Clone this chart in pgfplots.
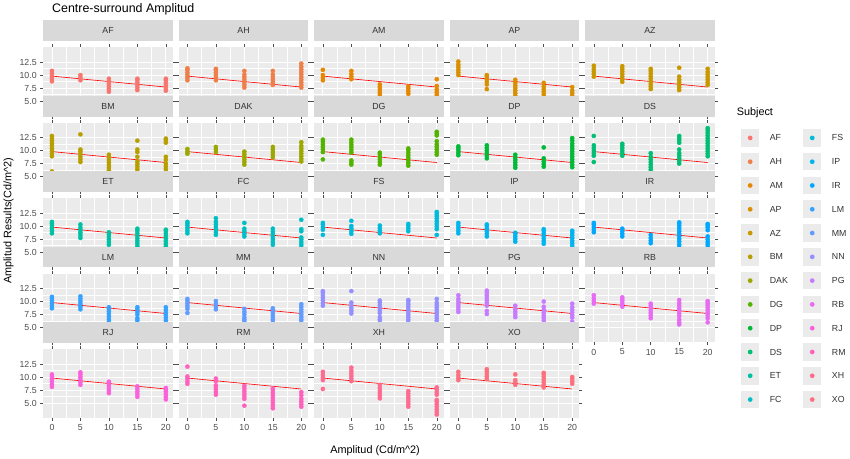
\documentclass[border=0pt]{standalone}
\usepackage{pgfplots}
\pgfplotsset{compat=1.18}
\usepgfplotslibrary{groupplots}
\usetikzlibrary{calc}
\usepackage{fontspec}
\setmainfont{Liberation Sans}
\definecolor{cAF}{HTML}{F8766D}\definecolor{cAH}{HTML}{EF7F49}\definecolor{cAM}{HTML}{E58700}
\definecolor{cAP}{HTML}{D89000}\definecolor{cAZ}{HTML}{C99800}\definecolor{cBM}{HTML}{B79F00}
\definecolor{cDAK}{HTML}{9CA700}\definecolor{cDG}{HTML}{53B400}\definecolor{cDP}{HTML}{00BA38}
\definecolor{cDS}{HTML}{00BF74}\definecolor{cET}{HTML}{00C1A3}\definecolor{cFC}{HTML}{00BFC4}
\definecolor{cFS}{HTML}{00BBDB}\definecolor{cIP}{HTML}{00B4EF}\definecolor{cIR}{HTML}{00A9FF}
\definecolor{cLM}{HTML}{35A2FF}\definecolor{cMM}{HTML}{619CFF}\definecolor{cNN}{HTML}{9590FF}
\definecolor{cPG}{HTML}{C77CFF}\definecolor{cRB}{HTML}{E76BF3}\definecolor{cRJ}{HTML}{FA62DB}
\definecolor{cRM}{HTML}{FF62BC}\definecolor{cXH}{HTML}{FF6C91}\definecolor{cXO}{HTML}{FC717F}
\definecolor{panelbg}{HTML}{EBEBEB}\definecolor{stripbg}{HTML}{D9D9D9}\definecolor{ticktxt}{HTML}{4D4D4D}
\newcommand{\panel}[4][]{\nextgroupplot[title={#2},#1]
 \addplot[only marks,mark=*,mark size=2pt,color=c#3] coordinates {#4};
 \addplot[red,line width=0.6pt] coordinates {(0,9.8)(20,7.7)};}
\begin{document}
\begin{tikzpicture}
\begin{groupplot}[
 group style={group size=5 by 5, horizontal sep=6pt, vertical sep=7pt,
   xticklabels at=edge bottom, yticklabels at=edge left},
 width=125pt, height=66pt, scale only axis,
 xmin=-1.5, xmax=21.2, ymin=2.2, ymax=15.3,
 xtick={0,5,10,15,20}, ytick={5,7.5,10,12.5}, yticklabels={5.0,7.5,10.0,12.5},
 minor x tick num=1, minor y tick num=1,
 axis background/.style={fill=panelbg},
 axis line style={draw=none},
 grid=both, major grid style={white,line width=0.8pt}, minor grid style={white,line width=0.4pt},
 tick align=outside, major tick length=3pt, minor tick length=0pt,
 tick style={ticktxt,line width=0.5pt},
 tick label style={font=\fontsize{8.5}{10}\selectfont, text=ticktxt},
 /pgf/number format/assume math mode=true,
 title style={at={(0.5,1)}, anchor=south, fill=stripbg, minimum width=125pt, minimum height=20pt,
   inner sep=0pt, font=\fontsize{8.5}{10}\selectfont, text=black!80, yshift=0pt},
 clip=false,
]
\panel[]{AF}{AF}{(0,8.8)(0,9.3)(0,9.8)(0,10.3)(0,10.8)(5,9.0)(5,9.5)(5,10.0)(10,6.8)(10,7.3)(10,7.8)(10,8.3)(10,8.8)(10,9.3)(15,7.1)(15,7.6)(15,8.1)(15,8.6)(15,9.1)(15,9.3)(20,7.0)(20,7.5)(20,8.0)(20,8.5)(20,9.0)(20,9.3)}
\node[anchor=west,font=\fontsize{12}{14}\selectfont] at (rel axis cs:0.04,1.56) {Centre-surround Amplitud};
\panel{AH}{AH}{(0,9.0)(0,9.5)(0,10.0)(0,10.5)(0,11.0)(0,11.3)(5,9.0)(5,9.5)(5,10.0)(5,10.5)(5,11.0)(5,11.2)(10,7.6)(10,8.1)(10,8.6)(10,9.1)(10,9.6)(10,10.1)(10,10.8)(15,8.1)(15,8.6)(15,9.1)(15,9.6)(15,10.1)(15,10.8)(20,7.6)(20,8.1)(20,8.6)(20,9.1)(20,9.6)(20,10.1)(20,10.6)(20,11.1)(20,11.6)(20,12.2)}
\panel{AM}{AM}{(0,9.0)(0,9.5)(0,10.0)(0,11.0)(5,9.2)(5,9.7)(5,10.2)(5,10.8)(10,6.2)(10,6.7)(10,7.2)(10,7.7)(10,8.2)(15,6.4)(15,6.9)(15,7.4)(15,7.8)(20,6.2)(20,6.7)(20,7.2)(20,7.9)(20,9.2)}
\panel{AP}{AP}{(0,10.0)(0,10.5)(0,11.0)(0,11.5)(0,12.0)(0,12.6)(5,7.3)(5,8.2)(5,8.7)(5,9.2)(5,9.7)(5,10.0)(10,5.5)(10,6.0)(10,6.5)(10,7.0)(10,7.5)(10,8.0)(10,8.5)(10,9.1)(15,4.2)(15,5.8)(15,6.3)(15,6.8)(15,7.3)(15,7.8)(15,8.5)(20,3.7)(20,4.5)(20,5.0)(20,5.5)(20,6.0)(20,6.5)(20,7.0)(20,7.7)}
\panel{AZ}{AZ}{(0,9.7)(0,10.2)(0,10.7)(0,11.2)(0,11.8)(5,8.7)(5,9.2)(5,9.7)(5,10.2)(5,10.7)(5,11.2)(5,11.7)(10,7.3)(10,7.8)(10,8.3)(10,8.8)(10,9.3)(10,9.8)(10,10.3)(10,10.8)(10,11.2)(15,7.1)(15,7.6)(15,8.1)(15,8.6)(15,9.1)(15,9.7)(15,11.4)(20,8.1)(20,8.6)(20,9.1)(20,9.6)(20,10.1)(20,10.6)(20,11.2)}
\panel{BM}{BM}{(0,6.0)(0,8.9)(0,9.4)(0,9.9)(0,10.4)(0,10.9)(0,11.4)(0,11.9)(0,12.4)(0,12.8)(5,7.8)(5,8.3)(5,8.8)(5,9.3)(5,9.8)(5,10.2)(5,13.1)(10,6.2)(10,6.7)(10,7.2)(10,7.7)(10,8.2)(10,8.7)(10,9.2)(15,4.6)(15,5.9)(15,6.4)(15,6.9)(15,7.4)(15,7.9)(15,8.8)(15,9.7)(15,10.2)(15,11.9)(20,6.0)(20,6.5)(20,7.0)(20,7.5)(20,8.2)(20,8.8)(20,11.5)(20,12.0)(20,12.3)}
\panel{DAK}{DAK}{(0,9.4)(0,9.8)(0,10.3)(5,9.7)(5,10.2)(5,10.7)(10,7.3)(10,7.8)(10,8.3)(10,8.8)(10,9.3)(10,9.8)(15,8.7)(15,9.2)(15,9.7)(15,10.2)(15,10.7)(20,7.9)(20,8.4)(20,8.9)(20,9.4)(20,9.9)(20,10.4)(20,10.9)(20,11.6)}
\panel{DG}{DG}{(0,8.3)(0,9.7)(0,10.2)(0,10.7)(0,11.2)(0,11.7)(0,12.1)(5,7.3)(5,7.7)(5,8.1)(5,9.6)(5,10.1)(5,10.6)(5,11.1)(5,11.6)(5,12.1)(10,7.3)(10,7.8)(10,8.3)(10,8.8)(10,9.3)(10,9.6)(15,7.1)(15,7.6)(15,8.1)(15,8.6)(15,9.1)(15,9.6)(15,10.1)(15,10.4)(20,9.2)(20,9.7)(20,10.2)(20,10.7)(20,11.2)(20,11.8)(20,12.9)(20,13.3)(20,13.6)}
\panel{DP}{DP}{(0,9.1)(0,9.6)(0,10.1)(0,10.5)(0,10.8)(5,8.5)(5,9.0)(5,9.5)(5,10.0)(5,10.5)(5,11.0)(10,5.4)(10,6.7)(10,7.2)(10,7.7)(10,8.2)(10,8.7)(10,9.2)(15,6.9)(15,7.4)(15,7.9)(15,8.5)(15,10.6)(20,3.8)(20,6.8)(20,7.3)(20,7.8)(20,8.3)(20,8.8)(20,9.3)(20,9.8)(20,10.3)(20,10.8)(20,11.3)(20,11.9)(20,12.4)}
\panel{DS}{DS}{(0,7.8)(0,9.0)(0,9.5)(0,10.0)(0,10.5)(0,11.0)(0,12.8)(5,9.0)(5,9.5)(5,10.0)(5,10.5)(5,11.0)(5,11.3)(10,6.3)(10,6.8)(10,7.3)(10,7.8)(10,8.3)(10,8.8)(10,9.5)(15,7.5)(15,8.0)(15,8.5)(15,9.0)(15,9.5)(15,10.2)(15,11.5)(15,12.0)(15,12.4)(15,12.8)(20,8.9)(20,9.4)(20,9.9)(20,10.4)(20,10.9)(20,11.4)(20,11.9)(20,12.4)(20,12.9)(20,13.4)(20,13.9)(20,14.3)}
\panel{ET}{ET}{(0,8.6)(0,9.1)(0,9.6)(0,10.1)(0,10.5)(0,10.8)(5,7.7)(5,8.2)(5,8.7)(5,9.2)(5,9.7)(5,10.3)(10,6.4)(10,6.9)(10,7.4)(10,7.9)(10,8.4)(10,8.8)(15,5.6)(15,6.1)(15,6.6)(15,7.1)(15,7.6)(15,8.1)(15,8.6)(15,9.1)(15,9.5)(20,5.6)(20,6.1)(20,6.6)(20,7.1)(20,7.6)(20,8.1)(20,8.6)(20,9.1)(20,9.3)}
\node[rotate=90,font=\fontsize{10.5}{12}\selectfont] at (rel axis cs:-0.27,0.67) {Amplitud Results(Cd/m\textasciicircum 2)};
\panel{FC}{FC}{(0,8.6)(0,9.1)(0,9.6)(0,10.1)(0,10.5)(0,10.8)(5,8.3)(5,8.8)(5,9.3)(5,9.8)(5,10.3)(5,10.8)(5,11.5)(10,8.0)(10,8.5)(10,9.0)(10,9.5)(10,10.6)(15,6.4)(15,6.9)(15,7.4)(15,7.9)(15,8.4)(15,8.9)(15,9.5)(20,5.9)(20,6.4)(20,6.9)(20,7.4)(20,7.8)(20,9.0)(20,9.4)(20,11.2)}
\panel{FS}{FS}{(0,8.3)(0,9.3)(0,9.8)(0,10.3)(0,10.6)(5,8.5)(5,9.0)(5,9.5)(5,10.0)(5,11.0)(10,8.6)(10,9.1)(10,9.6)(10,10.1)(15,9.0)(15,9.5)(15,10.0)(15,10.4)(20,8.3)(20,9.4)(20,9.9)(20,10.4)(20,10.9)(20,11.4)(20,11.9)(20,12.3)(20,12.7)}
\panel{IP}{IP}{(0,8.6)(0,9.1)(0,9.6)(0,10.1)(0,10.6)(5,8.0)(5,8.5)(5,9.0)(5,9.5)(5,10.0)(5,10.3)(10,7.0)(10,7.5)(10,8.0)(10,8.5)(10,8.7)(15,6.6)(15,7.1)(15,7.6)(15,8.1)(15,8.6)(15,9.1)(15,9.4)(20,5.7)(20,6.2)(20,6.7)(20,7.2)(20,7.7)(20,8.2)(20,8.7)(20,9.1)}
\panel{IR}{IR}{(0,8.8)(0,9.3)(0,9.8)(0,10.3)(0,10.6)(5,8.0)(5,8.5)(5,9.0)(5,9.5)(10,6.7)(10,7.2)(10,7.7)(10,8.3)(15,5.9)(15,6.4)(15,7.0)(15,7.5)(15,8.0)(15,8.5)(15,9.0)(15,9.5)(15,10.0)(15,10.4)(15,10.7)(20,5.4)(20,5.9)(20,6.4)(20,6.9)(20,7.4)(20,8.0)(20,9.2)(20,9.7)(20,10.1)(20,10.4)}
\panel{LM}{LM}{(0,8.7)(0,9.2)(0,9.7)(0,10.2)(0,10.6)(0,10.9)(5,8.5)(5,9.0)(5,9.5)(5,10.0)(5,10.5)(5,11.0)(10,5.1)(10,5.6)(10,6.1)(10,6.6)(10,7.1)(10,7.6)(10,8.1)(10,8.6)(10,8.9)(15,4.9)(15,5.4)(15,5.9)(15,6.4)(15,6.8)(15,7.5)(15,8.0)(15,8.5)(15,8.9)(20,4.4)(20,4.9)(20,5.4)(20,5.9)(20,6.4)(20,6.9)(20,7.4)(20,7.9)(20,8.4)(20,8.9)}
\panel{MM}{MM}{(0,7.8)(0,8.6)(0,9.1)(0,9.6)(0,10.1)(0,10.5)(5,8.5)(5,9.0)(5,9.5)(5,10.1)(10,6.1)(10,6.5)(10,6.9)(10,7.5)(10,8.0)(10,8.6)(15,6.0)(15,6.5)(15,7.0)(15,7.5)(15,8.0)(15,8.5)(15,8.7)(20,6.0)(20,6.5)(20,7.0)(20,7.5)(20,8.0)(20,8.5)(20,9.0)(20,9.5)}
\panel{NN}{NN}{(0,9.2)(0,9.7)(0,10.2)(0,10.7)(0,11.2)(0,11.7)(0,12.0)(5,7.7)(5,8.2)(5,8.7)(5,9.2)(5,9.8)(5,12.0)(10,5.5)(10,6.0)(10,6.5)(10,7.0)(10,7.8)(10,8.3)(10,8.8)(10,9.3)(10,9.8)(10,10.2)(15,6.0)(15,6.5)(15,7.0)(15,7.5)(15,8.0)(15,8.5)(15,9.0)(15,9.5)(15,10.0)(15,10.3)(20,6.3)(20,6.8)(20,7.3)(20,7.8)(20,8.3)(20,8.8)(20,9.3)(20,9.8)(20,10.5)}
\panel{PG}{PG}{(0,8.0)(0,8.5)(0,9.0)(0,9.5)(0,10.0)(0,10.5)(0,11.2)(5,7.6)(5,8.2)(5,9.2)(5,9.7)(5,10.2)(5,10.7)(5,11.2)(5,11.7)(5,12.1)(10,4.5)(10,7.0)(10,7.5)(10,8.0)(10,8.5)(10,9.2)(15,5.9)(15,6.4)(15,6.9)(15,7.4)(15,7.9)(15,8.4)(15,9.0)(15,10.0)(20,4.7)(20,5.9)(20,6.1)(20,6.9)(20,7.4)(20,7.9)(20,8.4)(20,8.9)(20,9.6)}
\panel[xticklabels={0,5,10,15,20}]{RB}{RB}{(0,9.6)(0,10.1)(0,10.6)(0,11.2)(5,9.0)(5,9.5)(5,10.0)(5,10.4)(5,10.8)(10,6.8)(10,7.3)(10,7.8)(10,8.3)(10,8.8)(10,9.2)(10,9.6)(15,5.6)(15,6.0)(15,6.5)(15,7.2)(15,7.7)(15,8.2)(15,8.7)(15,9.2)(15,9.7)(15,10.3)(20,6.0)(20,6.8)(20,7.3)(20,7.8)(20,8.3)(20,8.8)(20,9.3)(20,9.7)(20,10.1)}
\panel{RJ}{RJ}{(0,8.1)(0,8.6)(0,9.1)(0,9.6)(0,10.1)(0,10.5)(5,8.5)(5,9.0)(5,9.5)(5,10.0)(5,10.5)(5,10.9)(10,6.9)(10,7.4)(10,7.9)(10,8.4)(10,8.9)(10,9.1)(15,6.2)(15,6.7)(15,7.2)(15,7.7)(15,8.2)(20,5.7)(20,6.2)(20,6.7)(20,7.2)(20,7.6)(20,7.9)}
\panel{RM}{RM}{(0,8.7)(0,9.2)(0,9.7)(0,10.1)(0,12.0)(5,6.6)(5,7.1)(5,7.6)(5,8.1)(5,8.4)(5,9.2)(5,9.7)(10,4.5)(10,5.8)(10,6.3)(10,6.8)(10,7.3)(10,7.8)(10,8.3)(15,4.0)(15,4.5)(15,5.0)(15,5.5)(15,6.0)(15,6.5)(15,7.0)(15,7.5)(15,7.8)(20,4.3)(20,4.8)(20,5.3)(20,5.8)(20,6.5)(20,7.1)}
\panel{XH}{XH}{(0,7.7)(0,9.4)(0,9.9)(0,10.4)(0,11.0)(5,9.2)(5,9.7)(5,10.2)(5,10.7)(5,11.2)(5,11.8)(10,5.9)(10,6.4)(10,6.9)(10,7.4)(10,7.9)(10,8.5)(15,4.3)(15,4.8)(15,5.3)(15,5.8)(15,6.3)(15,6.8)(15,7.3)(20,2.8)(20,3.3)(20,3.8)(20,4.3)(20,4.8)(20,5.3)(20,5.6)(20,6.6)(20,7.1)(20,7.6)(20,8.0)}
\node[font=\fontsize{10.5}{12}\selectfont] at (rel axis cs:0.47,-0.48) {Amplitud (Cd/m\textasciicircum 2)};
\panel{XO}{XO}{(0,9.4)(0,9.9)(0,10.4)(0,11.0)(5,9.6)(5,10.1)(5,10.6)(5,11.1)(5,11.5)(10,8.5)(10,9.0)(10,9.4)(10,10.5)(15,8.0)(15,8.5)(15,9.0)(15,9.5)(15,10.0)(15,10.5)(15,10.8)(20,8.7)(20,9.2)(20,9.7)(20,10.0)}
\end{groupplot}
\coordinate (L) at (group c5r2.north east);
\node[anchor=west,font=\fontsize{10.5}{12}\selectfont] at ($(L)+(18pt,10pt)$) {Subject};
\foreach \n [count=\i from 0] in {AF,AH,AM,AP,AZ,BM,DAK,DG,DP,DS,ET,FC}{
  \fill[panelbg] ($(L)+(26pt,-6pt-23*\i pt)$) rectangle ++(17pt,-17pt);
  \fill[c\n] ($(L)+(34.5pt,-14.5pt-23*\i pt)$) circle (2.3pt);
  \node[anchor=west,font=\fontsize{8.5}{10}\selectfont,text=black!80] at ($(L)+(50pt,-14.5pt-23*\i pt)$) {\n};}
\foreach \n [count=\i from 0] in {FS,IP,IR,LM,MM,NN,PG,RB,RJ,RM,XH,XO}{
  \fill[panelbg] ($(L)+(86pt,-6pt-23*\i pt)$) rectangle ++(17pt,-17pt);
  \fill[c\n] ($(L)+(94.5pt,-14.5pt-23*\i pt)$) circle (2.3pt);
  \node[anchor=west,font=\fontsize{8.5}{10}\selectfont,text=black!80] at ($(L)+(110pt,-14.5pt-23*\i pt)$) {\n};}
\end{tikzpicture}
\end{document}
